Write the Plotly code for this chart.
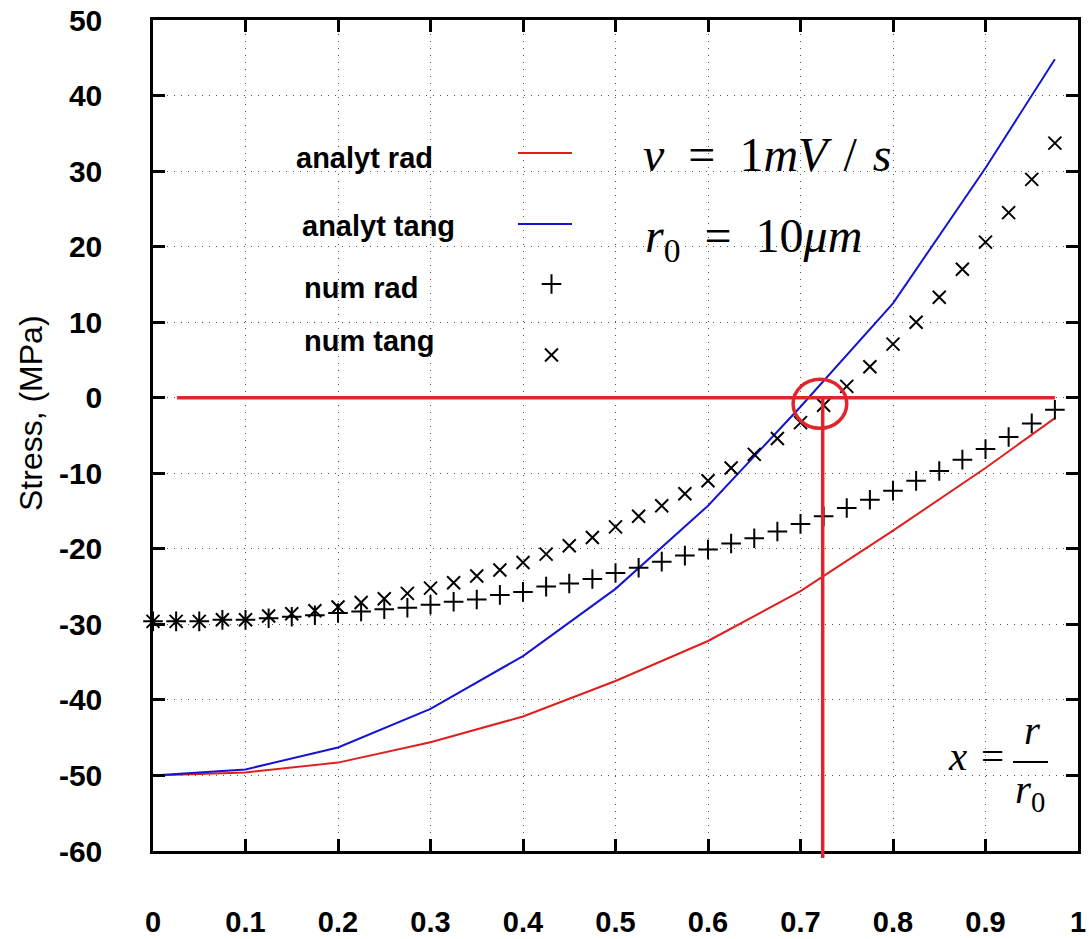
import plotly.graph_objects as go

# ---------------- data ----------------
X_RANGE = [0, 1]
Y_RANGE = [-60, 50]
x_tick_vals = [0, 0.1, 0.2, 0.3, 0.4, 0.5, 0.6, 0.7, 0.8, 0.9, 1.0]
x_tick_text = ["0", "0.1", "0.2", "0.3", "0.4", "0.5", "0.6", "0.7", "0.8", "0.9", "1"]
y_tick_vals = [-60, -50, -40, -30, -20, -10, 0, 10, 20, 30, 40, 50]
y_tick_text = ["-60", "-50", "-40", "-30", "-20", "-10", "0", "10", "20", "30", "40", "50"]

analyt_x = [0, 0.1, 0.2, 0.3, 0.4, 0.5, 0.6, 0.7, 0.8, 0.9, 0.975]
analyt_rad = [-50, -49.6, -48.3, -45.6, -42.2, -37.5, -32.2, -25.6, -17.6, -9.3, -2.7]
analyt_tang = [-50, -49.2, -46.3, -41.2, -34.2, -25.3, -14.3, -1.2, 12.5, 30.4, 44.8]

num_x = [0, 0.025, 0.05, 0.075, 0.1, 0.125, 0.15, 0.175, 0.2, 0.225,
         0.25, 0.275, 0.3, 0.325, 0.35, 0.375, 0.4, 0.425, 0.45, 0.475,
         0.5, 0.525, 0.55, 0.575, 0.6, 0.625, 0.65, 0.675, 0.7, 0.725,
         0.75, 0.775, 0.8, 0.825, 0.85, 0.875, 0.9, 0.925, 0.95, 0.975]
num_rad = [-29.6, -29.6, -29.6, -29.4, -29.4, -29.2, -29.0, -28.8, -28.5, -28.3,
           -28.0, -27.8, -27.4, -27.0, -26.7, -26.1, -25.7, -25.0, -24.6, -24.0,
           -23.2, -22.5, -21.7, -20.9, -20.1, -19.3, -18.6, -17.7, -16.7, -15.7,
           -14.6, -13.5, -12.3, -11.0, -9.7, -8.2, -6.8, -5.2, -3.4, -1.6]
num_tang = [-29.6, -29.6, -29.6, -29.4, -29.4, -28.9, -28.6, -28.2, -27.7, -27.1,
            -26.6, -25.9, -25.2, -24.5, -23.6, -22.8, -21.8, -20.7, -19.6, -18.5,
            -17.1, -15.7, -14.3, -12.7, -11.0, -9.3, -7.5, -5.4, -3.3, -1.0,
            1.5, 4.1, 7.1, 10.0, 13.3, 17.0, 20.6, 24.5, 28.9, 33.7]

legend_labels = ["analyt rad", "analyt tang", "num rad", "num tang"]

zero_line_x = [0.026, 0.975]
zero_line_y = 0
crossing_x = 0.724
crossing_circle_x = [0.692, 0.750]
crossing_circle_y = [-4.05, 2.44]

# ---------------- layout helpers ----------------
W, H = 1089, 939
L, R, T, B = 153, 1078, 20, 851


def px(xp):
    return (xp - L) / (R - L)


def py(yp):
    return (B - yp) / (B - T)


RED = "#e01e1e"
BLUE = "#1414d2"
REFRED = "#e0262c"
SANS = "Liberation Sans, Arial, Helvetica, sans-serif"
SERIF = "Liberation Serif, Times New Roman, serif"

fig = go.Figure()

fig.add_trace(go.Scatter(x=analyt_x, y=analyt_rad, mode="lines",
                         line=dict(color=RED, width=2), name=legend_labels[0]))
fig.add_trace(go.Scatter(x=analyt_x, y=analyt_tang, mode="lines",
                         line=dict(color=BLUE, width=2), name=legend_labels[1]))
fig.add_trace(go.Scatter(x=num_x, y=num_rad, mode="markers",
                         marker=dict(symbol="cross-thin", size=14,
                                     line=dict(color="black", width=2)),
                         name=legend_labels[2], cliponaxis=False))
fig.add_trace(go.Scatter(x=num_x, y=num_tang, mode="markers",
                         marker=dict(symbol="x-thin", size=13,
                                     line=dict(color="black", width=2)),
                         name=legend_labels[3], cliponaxis=False))

# legend key samples on a hidden overlay axis (paper-like 0..1)
fig.add_trace(go.Scatter(x=[px(518), px(572)], y=[py(153), py(153)], mode="lines",
                         line=dict(color=RED, width=2), xaxis="x2", yaxis="y2",
                         showlegend=False, hoverinfo="skip"))
fig.add_trace(go.Scatter(x=[px(518), px(572)], y=[py(224), py(224)], mode="lines",
                         line=dict(color=BLUE, width=2), xaxis="x2", yaxis="y2",
                         showlegend=False, hoverinfo="skip"))
fig.add_trace(go.Scatter(x=[px(551.5)], y=[py(284)], mode="markers",
                         marker=dict(symbol="cross-thin", size=14,
                                     line=dict(color="black", width=2)),
                         xaxis="x2", yaxis="y2", showlegend=False, hoverinfo="skip"))
fig.add_trace(go.Scatter(x=[px(551.5)], y=[py(355)], mode="markers",
                         marker=dict(symbol="x-thin", size=13,
                                     line=dict(color="black", width=2)),
                         xaxis="x2", yaxis="y2", showlegend=False, hoverinfo="skip"))

axis_common = dict(
    ticks="inside", ticklen=12, tickwidth=2.5, tickcolor="black",
    showline=True, linecolor="black", linewidth=2.5, mirror="ticks",
    showgrid=True, gridcolor="#555555", gridwidth=1, griddash="1px,6px",
    zeroline=False, automargin=False,
)

fig.update_layout(
    width=W, height=H,
    margin=dict(l=L, r=W - R, t=T, b=H - B, pad=0),
    paper_bgcolor="white", plot_bgcolor="white",
    showlegend=False,
    xaxis=dict(range=X_RANGE, tickvals=x_tick_vals, ticktext=x_tick_text,
               ticklabelstandoff=43,
               tickfont=dict(family=SANS, size=29, color="black", weight="bold"),
               **axis_common),
    yaxis=dict(range=Y_RANGE, tickvals=y_tick_vals, ticktext=y_tick_text,
               ticklabelstandoff=42,
               tickfont=dict(family=SANS, size=30, color="black", weight="bold"),
               **axis_common),
    xaxis2=dict(overlaying="x", range=[0, 1], visible=False),
    yaxis2=dict(overlaying="y", range=[0, 1], visible=False),
)

shapes = []
# white areas hiding the grid (legend area and lower-right formula box)
shapes.append(dict(type="rect", xref="paper", yref="paper", layer="between",
                   x0=px(268), x1=px(585), y0=py(382), y1=py(124),
                   fillcolor="white", line=dict(width=0)))
shapes.append(dict(type="rect", xref="paper", yref="paper", layer="between",
                   x0=px(877), x1=1.0, y0=0.0, y1=py(600),
                   fillcolor="white", line=dict(width=0)))
# red reference lines and circle
shapes.append(dict(type="line", xref="x", yref="y",
                   x0=zero_line_x[0], x1=zero_line_x[1], y0=zero_line_y, y1=zero_line_y,
                   line=dict(color=REFRED, width=3.5)))
cx_paper = (crossing_x - X_RANGE[0]) / (X_RANGE[1] - X_RANGE[0])
zero_paper = (zero_line_y - Y_RANGE[0]) / (Y_RANGE[1] - Y_RANGE[0])
shapes.append(dict(type="line", xref="paper", yref="paper",
                   x0=cx_paper, x1=cx_paper, y0=py(858), y1=zero_paper,
                   line=dict(color=REFRED, width=3.5)))
shapes.append(dict(type="circle", xref="x", yref="y",
                   x0=crossing_circle_x[0], x1=crossing_circle_x[1],
                   y0=crossing_circle_y[0], y1=crossing_circle_y[1],
                   line=dict(color=REFRED, width=3.5)))
# fraction bar of x = r / r0
shapes.append(dict(type="line", xref="paper", yref="paper",
                   x0=px(1013), x1=px(1048), y0=py(762), y1=py(762),
                   line=dict(color="black", width=2)))
fig.update_layout(shapes=shapes)

ann = []
legend_pos = [(294, 158), (300, 226), (302, 288), (302, 341)]
for lab, (lx, ly) in zip(legend_labels, legend_pos):
    ann.append(dict(text=lab, x=px(lx), y=py(ly), xref="paper", yref="paper",
                    xanchor="left", yanchor="middle", showarrow=False,
                    font=dict(family=SANS, size=29, color="black", weight="bold")))

ann.append(dict(text="Stress, (MPa)", x=px(31), y=py(413), xref="paper", yref="paper",
                textangle=-90, xanchor="center", yanchor="middle", showarrow=False,
                font=dict(family=SANS, size=32, color="black")))

EN = "\u2002"
TH = "\u2004"
ann.append(dict(text="<i>v</i>" + EN + "=" + EN + "1<i>mV</i>" + TH + "/" + TH + "<i>s</i>",
                x=px(641), y=py(154), xref="paper", yref="paper",
                xanchor="left", yanchor="middle", showarrow=False,
                font=dict(family=SERIF, size=48, color="black")))
ann.append(dict(text="<i>r</i><sub>0</sub>" + EN + "=" + EN + "10<i>\u03bcm</i>",
                x=px(643), y=py(239), xref="paper", yref="paper",
                xanchor="left", yanchor="middle", showarrow=False,
                font=dict(family=SERIF, size=48, color="black")))
ann.append(dict(text="<i>x</i>" + TH + "=",
                x=px(946), y=py(756), xref="paper", yref="paper",
                xanchor="left", yanchor="middle", showarrow=False,
                font=dict(family=SERIF, size=41, color="black")))
ann.append(dict(text="<i>r</i>",
                x=px(1032), y=py(730), xref="paper", yref="paper",
                xanchor="center", yanchor="middle", showarrow=False,
                font=dict(family=SERIF, size=41, color="black")))
ann.append(dict(text="<i>r</i><sub>0</sub>",
                x=px(1030), y=py(792), xref="paper", yref="paper",
                xanchor="center", yanchor="middle", showarrow=False,
                font=dict(family=SERIF, size=41, color="black")))
fig.update_layout(annotations=ann)

fig.write_html("out.html")
